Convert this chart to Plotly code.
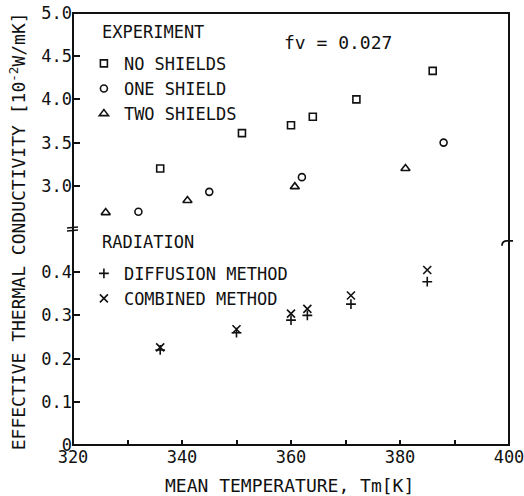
import plotly.graph_objects as go

# ---- data ----
no_shields_t = [336, 351, 360, 364, 372, 386]
no_shields_k = [3.20, 3.61, 3.70, 3.80, 4.00, 4.33]

one_shield_t = [332, 345, 362, 388]
one_shield_k = [2.70, 2.93, 3.10, 3.50]

two_shields_t = [326, 341, 360.7, 381]
two_shields_k = [2.69, 2.83, 2.99, 3.20]

diffusion_t = [336, 350, 360, 363, 371, 385]
diffusion_k = [0.220, 0.260, 0.289, 0.300, 0.326, 0.378]

combined_t = [336, 350, 360, 363, 371, 385]
combined_k = [0.226, 0.268, 0.304, 0.315, 0.346, 0.405]

x_tickvals = [320, 330, 340, 350, 360, 370, 380, 390, 400]
x_ticktext = ["320", "", "340", "", "360", "", "380", "", "400"]
low_tickvals = [0, 0.1, 0.2, 0.3, 0.4]
low_ticktext = ["0", "0.1", "0.2", "0.3", "0.4"]
up_tickvals = [3.0, 3.5, 4.0, 4.5, 5.0]
up_ticktext = ["3.0", "3.5", "4.0", "4.5", "5.0"]

FONT = "DejaVu Sans Mono"
INK = "#111111"

fig = go.Figure()

mk = dict(color=INK, line=dict(color=INK, width=1.6))
fig.add_trace(go.Scatter(x=no_shields_t, y=no_shields_k, mode="markers", yaxis="y2",
                         name="NO SHIELDS", legend="legend",
                         marker=dict(symbol="square-open", size=7, **mk)))
fig.add_trace(go.Scatter(x=one_shield_t, y=one_shield_k, mode="markers", yaxis="y2",
                         name="ONE SHIELD", legend="legend",
                         marker=dict(symbol="circle-open", size=7, **mk)))
fig.add_trace(go.Scatter(x=two_shields_t, y=two_shields_k, mode="markers", yaxis="y2",
                         name="TWO SHIELDS", legend="legend",
                         marker=dict(symbol="triangle-up-open", size=8, **mk)))
fig.add_trace(go.Scatter(x=diffusion_t, y=diffusion_k, mode="markers", yaxis="y",
                         name="DIFFUSION METHOD", legend="legend2",
                         marker=dict(symbol="cross-thin-open", size=7, **mk)))
fig.add_trace(go.Scatter(x=combined_t, y=combined_k, mode="markers", yaxis="y",
                         name="COMBINED METHOD", legend="legend2",
                         marker=dict(symbol="x-thin-open", size=8, **mk)))

axis_common = dict(showgrid=False, zeroline=False, showline=False, ticks="inside",
                   tickcolor=INK, tickwidth=1.6, automargin=False,
                   ticklabeloverflow="allow",
                   tickfont=dict(family=FONT, size=17, color=INK))

legend_common = dict(bgcolor="rgba(0,0,0,0)", borderwidth=0,
                     font=dict(family=FONT, size=17, color=INK),
                     xanchor="left", yanchor="top", itemwidth=30)

fig.update_layout(
    width=524, height=496,
    margin=dict(l=73, r=15, t=13, b=51, autoexpand=False),
    paper_bgcolor="white", plot_bgcolor="white",
    showlegend=True,
    xaxis=dict(range=[320, 400], tickvals=x_tickvals, ticktext=x_ticktext,
               ticklen=5, anchor="y", **axis_common),
    yaxis=dict(domain=[0, 0.5], range=[0, 0.5], tickvals=low_tickvals,
               ticktext=low_ticktext, ticklen=7, anchor="x", **axis_common),
    yaxis2=dict(domain=[0.5, 1], range=[2.5, 5.0], tickvals=up_tickvals,
                ticktext=up_ticktext, ticklen=7, anchor="x", **axis_common),
    legend=dict(x=0.025, y=0.924, **legend_common),
    legend2=dict(x=0.025, y=0.438, **legend_common),
)

# frame
fig.add_shape(type="rect", xref="paper", yref="paper", x0=0, x1=1, y0=0, y1=1,
              line=dict(color=INK, width=2))

# axis break marks
fig.add_shape(type="path", xref="paper", yref="paper", xsizemode="pixel", ysizemode="pixel",
              xanchor=0, yanchor=0.5,
              path="M-6,1 L5,2 M-6,-2 L5,-1", line=dict(color=INK, width=1.6))
fig.add_shape(type="path", xref="paper", yref="paper", xsizemode="pixel", ysizemode="pixel",
              xanchor=1, yanchor=0.468,
              path="M-7,-3 Q-7,2 -2,2 L4,2 M0,5 L0,-5", line=dict(color=INK, width=1.8))

# group titles
fig.add_annotation(x=0.062, y=0.955, xref="paper", yref="paper", xanchor="left",
                   yanchor="middle", showarrow=False, text="EXPERIMENT",
                   font=dict(family=FONT, size=17, color=INK))
fig.add_annotation(x=0.062, y=0.469, xref="paper", yref="paper", xanchor="left",
                   yanchor="middle", showarrow=False, text="RADIATION",
                   font=dict(family=FONT, size=17, color=INK))

fig.add_annotation(x=0.48, y=0.932, xref="paper", yref="paper", xanchor="left",
                   yanchor="middle", showarrow=False, text="fv = 0.027",
                   font=dict(family=FONT, size=18, color=INK))
fig.add_annotation(x=0.497, y=-0.093, xref="paper", yref="paper", xanchor="center",
                   yanchor="middle", showarrow=False, text="MEAN TEMPERATURE, Tm[K]",
                   font=dict(family=FONT, size=18, color=INK))
fig.add_annotation(x=-0.126, y=0.495, xref="paper", yref="paper", xanchor="center",
                   yanchor="middle", showarrow=False, textangle=-90,
                   text="EFFECTIVE THERMAL CONDUCTIVITY [10<sup>-2</sup>W/mK]",
                   font=dict(family=FONT, size=18, color=INK))

# remove the default page margin so the 524x496 figure fills the window exactly
fig.write_html("out.html", config={"displayModeBar": False},
               post_script="document.body.style.margin='0px';")
